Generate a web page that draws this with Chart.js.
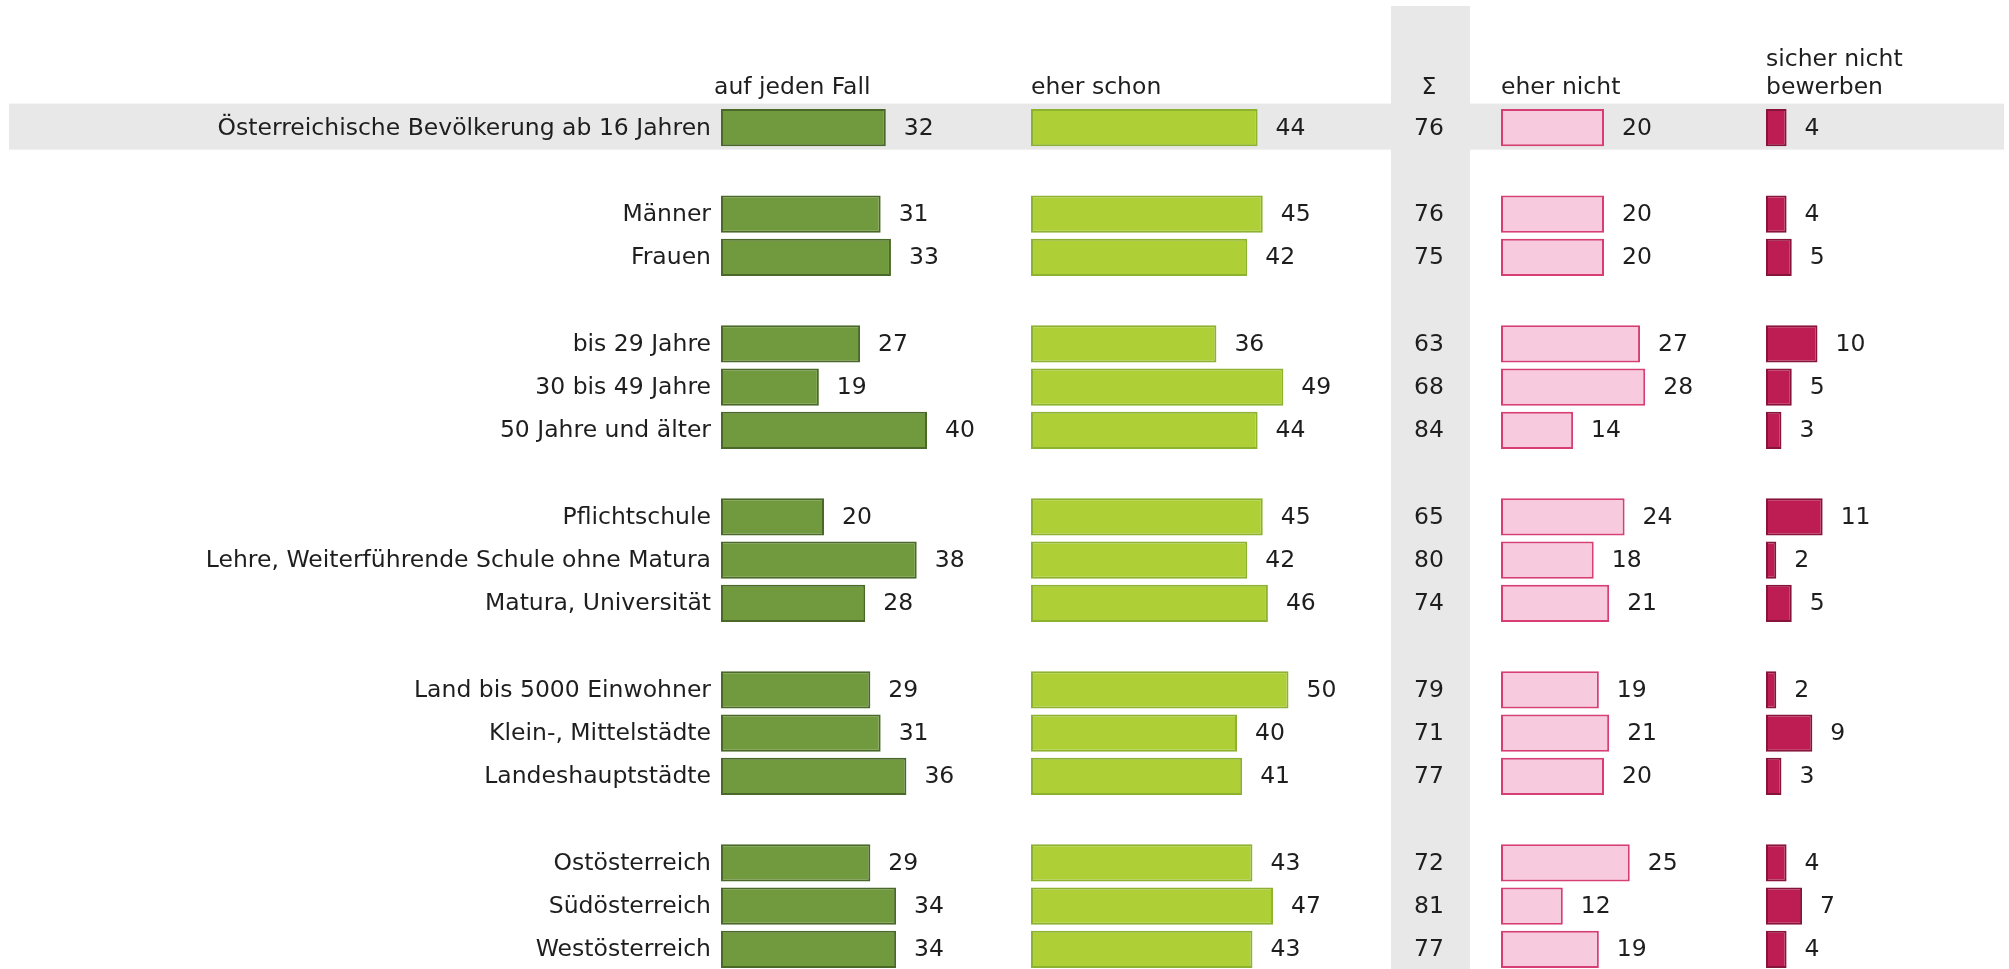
<!DOCTYPE html>
<html>
<head>
<meta charset="utf-8">
<script src="https://cdn.jsdelivr.net/npm/chart.js@4/dist/chart.umd.min.js"></script>
<style>
  html, body { margin: 0; padding: 0; background: #fff; overflow: hidden; }
  #wrap { width: 2009px; height: 976px; }
</style>
</head>
<body>
<div id="wrap"><canvas id="chart" width="2009" height="976"></canvas></div>
<script>
// categories (empty strings = spacer rows between groups)
const categories = [
    'Österreichische Bevölkerung ab 16 Jahren', '',
    'Männer', 'Frauen', '',
    'bis 29 Jahre', '30 bis 49 Jahre', '50 Jahre und älter', '',
    'Pflichtschule', 'Lehre, Weiterführende Schule ohne Matura', 'Matura, Universität', '',
    'Land bis 5000 Einwohner', 'Klein-, Mittelstädte', 'Landeshauptstädte', '',
    'Ostösterreich', 'Südösterreich', 'Westösterreich'
];
const aufJedenFall = [32, null, 31, 33, null, 27, 19, 40, null, 20, 38, 28, null, 29, 31, 36, null, 29, 34, 34];
const eherSchon    = [44, null, 45, 42, null, 36, 49, 44, null, 45, 42, 46, null, 50, 40, 41, null, 43, 47, 43];
const summe        = [76, null, 76, 75, null, 63, 68, 84, null, 65, 80, 74, null, 79, 71, 77, null, 72, 81, 77];
const eherNicht    = [20, null, 20, 20, null, 27, 28, 14, null, 24, 18, 21, null, 19, 21, 20, null, 25, 12, 19];
const sicherNicht  = [4, null, 4, 5, null, 10, 5, 3, null, 11, 2, 5, null, 2, 9, 3, null, 4, 7, 4];

const FONT = '"DejaVu Sans", sans-serif';
const TEXT = '#1e1e1e';
const GRAY = '#e8e8e8';

// layout: each column gets its own hidden x axis, same px per unit
const AREA_LEFT = 721, AREA_RIGHT = 2009, PX_PER_UNIT = 5.15;
function colAxis(startPx) {
    const min = -(startPx - AREA_LEFT) / PX_PER_UNIT;
    return { type: 'linear', display: false, min: min, max: min + (AREA_RIGHT - AREA_LEFT) / PX_PER_UNIT };
}

const textPlugin = {
    id: 'texts',
    beforeDraw(chart) {
        const ctx = chart.ctx, y = chart.scales.y;
        ctx.save();
        ctx.fillStyle = GRAY;
        // sum column
        ctx.fillRect(1391, 6, 79, chart.height);
        // first row highlight
        const r0 = y.getPixelForValue(0);
        ctx.fillRect(9, r0 - 24, 1995, 46);
        ctx.restore();
    },
    afterDatasetsDraw(chart) {
        const ctx = chart.ctx, s = chart.scales;
        ctx.save();
        ctx.fillStyle = TEXT;
        ctx.font = '23.5px ' + FONT;
        ctx.textBaseline = 'alphabetic';
        ctx.textAlign = 'left';
        ctx.fillText('auf jeden Fall', s.x1.getPixelForValue(0) - 7, 94);
        ctx.fillText('eher schon', s.x2.getPixelForValue(0), 94);
        ctx.fillText('eher nicht', s.x4.getPixelForValue(0), 94);
        ctx.fillText('sicher nicht', s.x5.getPixelForValue(0), 66);
        ctx.fillText('bewerben', s.x5.getPixelForValue(0), 94);
        ctx.textAlign = 'center';
        ctx.fillText('Σ', 1429, 94);

        ctx.textBaseline = 'middle';
        // category labels
        ctx.textAlign = 'right';
        categories.forEach((c, j) => {
            if (c) ctx.fillText(c, chart.chartArea.left - 10, s.y.getPixelForValue(j) + 1);
        });
        // value labels at bar ends
        ctx.textAlign = 'left';
        chart.data.datasets.forEach((ds, i) => {
            chart.getDatasetMeta(i).data.forEach((bar, j) => {
                if (ds.data[j] == null) return;
                ctx.fillText(String(ds.data[j]), bar.x + 18, bar.y + 1);
            });
        });
        // sum column
        ctx.textAlign = 'center';
        summe.forEach((v, j) => {
            if (v == null) return;
            ctx.fillText(String(v), 1429, s.y.getPixelForValue(j) + 1);
        });
        ctx.restore();
    }
};

function barSet(label, data, axis, fill, border) {
    return {
        label: label,
        data: data,
        xAxisID: axis,
        backgroundColor: fill,
        borderColor: border,
        borderWidth: 2,
        borderSkipped: false,
        barPercentage: 0.86,
        categoryPercentage: 1,
        grouped: false
    };
}

new Chart(document.getElementById('chart'), {
    type: 'bar',
    data: {
        labels: categories,
        datasets: [
            barSet('auf jeden Fall', aufJedenFall, 'x1', 'rgb(112,154,61)', 'rgb(74,104,40)'),
            barSet('eher schon', eherSchon, 'x2', 'rgb(174,208,54)', 'rgb(140,178,48)'),
            barSet('eher nicht', eherNicht, 'x4', 'rgb(247,202,221)', 'rgb(214,62,116)'),
            barSet('sicher nicht bewerben', sicherNicht, 'x5', 'rgb(189,29,82)', 'rgb(135,20,58)')
        ]
    },
    options: {
        indexAxis: 'y',
        responsive: false,
        devicePixelRatio: 1,
        animation: false,
        layout: { padding: { top: 106, bottom: 5, left: AREA_LEFT, right: 0 } },
        plugins: { legend: { display: false }, tooltip: { enabled: false } },
        scales: {
            y: { type: 'category', display: false },
            x1: colAxis(721),
            x2: colAxis(1031),
            x4: colAxis(1501),
            x5: colAxis(1766)
        }
    },
    plugins: [textPlugin]
});
</script>
</body>
</html>
